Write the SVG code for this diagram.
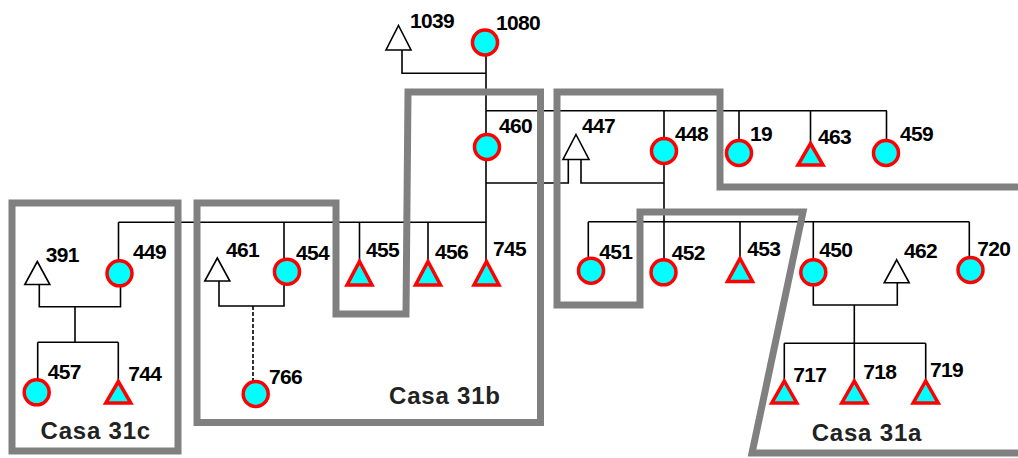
<svg xmlns="http://www.w3.org/2000/svg" width="1018" height="458" viewBox="0 0 1018 458">
<style>
.ln{fill:none;stroke:#000;stroke-width:1.6}
.dash{stroke-dasharray:4,2}
.box{fill:none;stroke:#808080;stroke-width:7;stroke-linejoin:miter}
.f{fill:#00FFFF;stroke:#FF0000;stroke-width:3.5}
.m{fill:#00FFFF;stroke:#FF0000;stroke-width:3.5;stroke-linejoin:miter}
.o{fill:#fff;stroke:#000;stroke-width:1.6;stroke-linejoin:miter}
.t{font-family:"Liberation Sans",Arial,sans-serif;font-weight:bold;font-size:21px;letter-spacing:-0.7px;fill:#000}
.c{font-family:"Liberation Sans",Arial,sans-serif;font-weight:bold;font-size:24px;fill:#222;letter-spacing:0.8px}
</style>
<rect width="1018" height="458" fill="#fff"/>
<g id="connectors">
<path class="ln" d="M402,50 V73.3 H486"/>
<path class="ln" d="M486,55 V261.5"/>
<path class="ln" d="M486,110.7 H887"/>
<path class="ln" d="M664,110.7 V138.5 M739,110.7 V140.5 M810.5,110.7 V143.5 M886.5,110.7 V140.5"/>
<path class="ln" d="M486,183 H568.3 V159.5"/>
<path class="ln" d="M581,159.5 V183 H664"/>
<path class="ln" d="M664,163.5 V260"/>
<path class="ln" d="M588.3,221.7 H969.3"/>
<path class="ln" d="M588.3,221.7 V258.2 M740,221.7 V258.5 M813.3,221.7 V259.8 M969.3,221.7 V257.5"/>
<path class="ln" d="M813.3,284.8 V305 H897.3 V282.8"/>
<path class="ln" d="M854.3,305 V381"/>
<path class="ln" d="M784.3,343.3 H925.7"/>
<path class="ln" d="M784.3,343.3 V381 M925.7,343.3 V381"/>
<path class="ln" d="M118.5,222.3 H486"/>
<path class="ln" d="M118.5,222.3 V261 M284,222.3 V259.2 M359.5,222.3 V261.5 M428,222.3 V261.5"/>
<path class="ln" d="M39.3,284.5 V306.7 H120.5 V285.5"/>
<path class="ln" d="M75,306.7 V342.3"/>
<path class="ln" d="M37.7,342.3 H118.3"/>
<path class="ln" d="M37.7,342.3 V379.8 M118.3,342.3 V381.5"/>
<path class="ln" d="M219,281 V306 H284 V284.2"/>
<path class="ln dash" d="M253,306 V381.5"/>
</g>
<g id="casa31c"><rect class="box" x="12" y="203" width="166" height="248"/><text class="c" x="40.5" y="439">Casa 31c</text></g>
<g id="casa31b"><path class="box" d="M197,203 L336,203 L336,314 L406,314 L408,92 L540.5,92 L540.5,422.5 L197,422.5 Z"/><text class="c" x="389" y="403.5">Casa 31b</text></g>
<g id="casa31a"><path class="box" d="M1024,187 L720,187 L720,92 L557,92 L557,305 L640,305 L640,212 L803,212 L752,453 L1024,453"/><text class="c" x="811.7" y="441">Casa 31a</text></g>
<g id="n1039"><path class="o" d="M398.5,25.5 L411,50 L386,50 Z"/><text class="t" x="410" y="28">1039</text></g>
<g id="n1080"><circle class="f" cx="485" cy="42.5" r="12.5"/><text class="t" x="496" y="30">1080</text></g>
<g id="n460"><circle class="f" cx="487" cy="147" r="12.5"/><text class="t" x="499" y="132.5">460</text></g>
<g id="n447"><path class="o" d="M576,134.5 L589,159.5 L563,159.5 Z"/><text class="t" x="582" y="132.5">447</text></g>
<g id="n448"><circle class="f" cx="664" cy="151" r="12.5"/><text class="t" x="675" y="140.5">448</text></g>
<g id="n19"><circle class="f" cx="739" cy="153" r="12.5"/><text class="t" x="750" y="140.5">19</text></g>
<g id="n463"><path class="m" d="M810.5,143.5 L823,165 L798,165 Z"/><text class="t" x="818" y="143.5">463</text></g>
<g id="n459"><circle class="f" cx="886" cy="153" r="12.5"/><text class="t" x="900" y="140.5">459</text></g>
<g id="n391"><path class="o" d="M37.3,261.5 L49.8,284.5 L24.8,284.5 Z"/><text class="t" x="45.7" y="262">391</text></g>
<g id="n449"><circle class="f" cx="119.5" cy="273.3" r="12.5"/><text class="t" x="133" y="258.8">449</text></g>
<g id="n457"><circle class="f" cx="36.7" cy="392.3" r="12.5"/><text class="t" x="47.7" y="378.8">457</text></g>
<g id="n744"><path class="m" d="M118.3,381.5 L130.8,403 L105.8,403 Z"/><text class="t" x="128.3" y="380.5">744</text></g>
<g id="n461"><path class="o" d="M217.3,258 L229.8,281 L204.8,281 Z"/><text class="t" x="226" y="257.2">461</text></g>
<g id="n454"><circle class="f" cx="287" cy="271.7" r="12.5"/><text class="t" x="296" y="259.5">454</text></g>
<g id="n455"><path class="m" d="M359.5,261.5 L372,285 L347,285 Z"/><text class="t" x="366" y="257.2">455</text></g>
<g id="n456"><path class="m" d="M428,261.5 L440.5,285 L415.5,285 Z"/><text class="t" x="435" y="258.5">456</text></g>
<g id="n745"><path class="m" d="M486.5,261.5 L499,285 L474,285 Z"/><text class="t" x="493" y="255.5">745</text></g>
<g id="n766"><circle class="f" cx="255.7" cy="394" r="12.5"/><text class="t" x="269" y="383.5">766</text></g>
<g id="n451"><circle class="f" cx="591" cy="270.7" r="12.5"/><text class="t" x="599.3" y="258.8">451</text></g>
<g id="n452"><circle class="f" cx="663.5" cy="272.3" r="12.5"/><text class="t" x="671.7" y="259.8">452</text></g>
<g id="n453"><path class="m" d="M740,258.5 L752.5,281.5 L727.5,281.5 Z"/><text class="t" x="747.3" y="255.5">453</text></g>
<g id="n450"><circle class="f" cx="813.3" cy="272.3" r="12.5"/><text class="t" x="819.3" y="257.2">450</text></g>
<g id="n462"><path class="o" d="M896.7,259.8 L909.2,282.8 L884.2,282.8 Z"/><text class="t" x="904" y="257.8">462</text></g>
<g id="n720"><circle class="f" cx="970.5" cy="270" r="12.5"/><text class="t" x="977.3" y="255.5">720</text></g>
<g id="n717"><path class="m" d="M784.3,381 L796.8,403 L771.8,403 Z"/><text class="t" x="793.3" y="382.2">717</text></g>
<g id="n718"><path class="m" d="M854.3,381 L866.8,403 L841.8,403 Z"/><text class="t" x="863.3" y="378.8">718</text></g>
<g id="n719"><path class="m" d="M925.7,381 L938.2,403 L913.2,403 Z"/><text class="t" x="930" y="377.2">719</text></g>
</svg>
